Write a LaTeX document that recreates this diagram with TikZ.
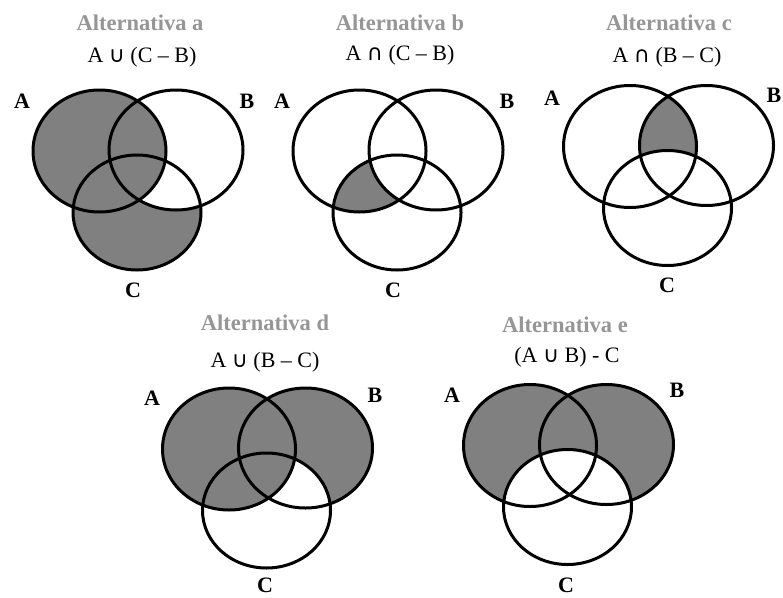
\documentclass[tikz,border=0pt]{standalone}
\usepackage{fontspec}
\setmainfont{Liberation Serif}
\newfontfamily\symf{DejaVu Sans}
\definecolor{vgray}{RGB}{128,128,128}
\definecolor{titlegray}{RGB}{150,150,150}
\newcommand\VA{(99.5,151) ellipse [x radius=66.5pt, y radius=61pt]}
\newcommand\VB{(176,150) ellipse [x radius=67pt, y radius=60pt]}
\newcommand\VC{(137,212.5) ellipse [x radius=64pt, y radius=57.5pt]}
\newcommand\cupS{{\symf\fontsize{22}{24}\selectfont ∪}}
\newcommand\capS{{\symf\fontsize{22}{24}\selectfont ∩}}
\begin{document}
\begin{tikzpicture}[x=1pt,y=-1pt,
  venn/.style={line width=3pt},
  shadefill/.style={fill=vgray},
  title/.style={font=\fontsize{22.5}{26}\selectfont\bfseries, text=titlegray, inner sep=0pt},
  formula/.style={font=\fontsize{22}{26}\selectfont, inner sep=0pt},
  lbl/.style={font=\fontsize{22}{26}\selectfont\bfseries, inner sep=0pt}]
\useasboundingbox (0,0) rectangle (783,597);
\fill[white] (0,0) rectangle (783,597);

% ---------- Panel a : A u (C - B)
\begin{scope}[shift={(0,0)}]
  \fill[shadefill] \VA; \fill[shadefill] \VC;
  \begin{scope}\clip \VB; \fill[white] \VC; \end{scope}
  \begin{scope}\clip \VA; \clip \VB; \fill[shadefill] \VC; \end{scope}
  \draw[venn] \VA; \draw[venn] \VB; \draw[venn] \VC;
\end{scope}
\node[title] (ta) at (140,23) {Alternativa a};
\node[formula] (fa) at (142,57) {A \cupS\ (C – B)};
\node[lbl] (aA) at (22,101) {A};
\node[lbl] (aB) at (247,101) {B};
\node[lbl] (aC) at (133,290) {C};

% ---------- Panel b : A n (C - B)
\begin{scope}[shift={(260,0)}]
  \begin{scope}\clip \VA; \fill[shadefill] \VC; \end{scope}
  \begin{scope}\clip \VA; \clip \VB; \fill[white] \VC; \end{scope}
  \draw[venn] \VA; \draw[venn] \VB; \draw[venn] \VC;
\end{scope}
\node[title] (tb) at (400,23) {Alternativa b};
\node[formula] (fb) at (400,55) {A \capS\ (C – B)};
\node[lbl] (bA) at (282,101) {A};
\node[lbl] (bB) at (507,101) {B};
\node[lbl] (bC) at (393,290) {C};

% ---------- Panel c : A n (B - C)
\begin{scope}[shift={(530.5,-4.5)}]
  \begin{scope}\clip \VA; \fill[shadefill] \VB; \end{scope}
  \begin{scope}\clip \VA; \clip \VB; \fill[white] \VC; \end{scope}
  \draw[venn] \VA; \draw[venn] \VB; \draw[venn] \VC;
\end{scope}
\node[title] (tc) at (669,23) {Alternativa c};
\node[formula] (fc) at (667,57) {A \capS\ (B – C)};
\node[lbl] (cA) at (552,98) {A};
\node[lbl] (cB) at (774,95) {B};
\node[lbl] (cC) at (667,285) {C};

% ---------- Panel d : A u (B - C)
\begin{scope}[shift={(129.5,298)}]
  \fill[shadefill] \VA; \fill[shadefill] \VB;
  \begin{scope}\clip \VB; \fill[white] \VC; \end{scope}
  \begin{scope}\clip \VA; \fill[shadefill] \VC; \end{scope}
  \draw[venn] \VA; \draw[venn] \VB; \draw[venn] \VC;
\end{scope}
\node[title] (td) at (265,323) {Alternativa d};
\node[formula] (fd) at (265,362) {A \cupS\ (B – C)};
\node[lbl] (dA) at (152,398) {A};
\node[lbl] (dB) at (375,395) {B};
\node[lbl] (dC) at (265,585) {C};

% ---------- Panel e : (A u B) - C
\begin{scope}[shift={(430.5,294.5)}]
  \fill[shadefill] \VA; \fill[shadefill] \VB;
  \fill[white] \VC;
  \draw[venn] \VA; \draw[venn] \VB; \draw[venn] \VC;
\end{scope}
\node[title] (te) at (565,325) {Alternativa e};
\node[formula] (fe) at (567,357) {(A \cupS\ B) - C};
\node[lbl] (eA) at (452,395) {A};
\node[lbl] (eB) at (677,390) {B};
\node[lbl] (eC) at (566,585) {C};
\end{tikzpicture}
\end{document}
